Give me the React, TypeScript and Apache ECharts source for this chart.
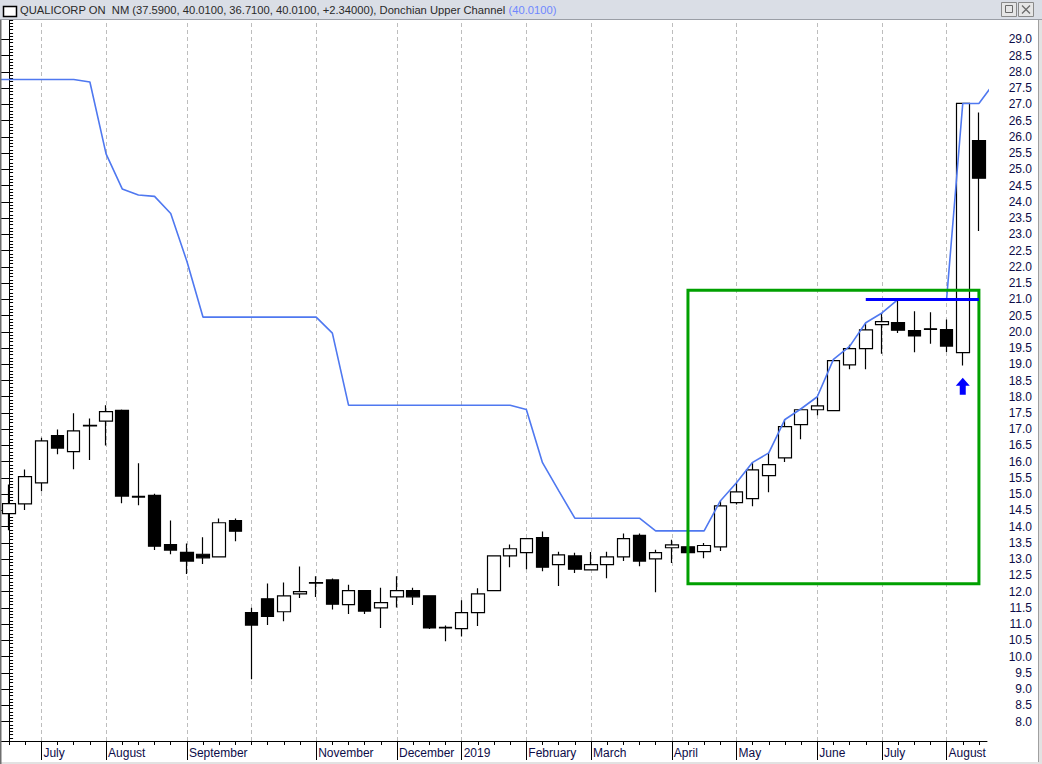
import React, { useEffect, useRef } from 'react';
import * as echarts from 'echarts';

// Weekly candles (index 0..60)
const opens = [14.40, 14.70, 15.35, 16.80, 16.31, 17.10, 17.25, 17.58, 14.93, 14.96, 13.45, 13.21, 13.15, 13.07, 14.19, 11.35, 11.78, 11.38, 11.93, 12.26, 12.36, 11.60, 12.03, 11.50, 11.84, 12.03, 11.87, 10.90, 10.86, 11.35, 12.03, 13.10, 13.20, 13.66, 12.83, 13.10, 12.67, 12.83, 13.07, 13.73, 13.01, 13.35, 13.38, 13.23, 13.38, 14.74, 14.86, 15.57, 16.12, 17.14, 17.60, 17.57, 18.98, 19.48, 20.22, 20.28, 20.04, 20.09, 20.07, 19.36, 25.89];
const closes = [14.71, 15.54, 16.64, 16.42, 16.95, 17.12, 17.54, 14.94, 14.91, 13.40, 13.28, 12.94, 13.04, 14.12, 13.86, 10.97, 11.24, 11.87, 12.00, 12.28, 11.61, 12.03, 11.40, 11.66, 12.03, 11.84, 10.88, 10.88, 11.35, 11.93, 13.10, 13.32, 13.63, 12.75, 13.13, 12.69, 12.83, 13.07, 13.63, 12.94, 13.20, 13.44, 13.20, 13.42, 14.64, 15.07, 15.75, 15.91, 17.08, 17.60, 17.72, 19.11, 19.48, 20.06, 20.31, 20.05, 19.87, 20.07, 19.56, 27.03, 24.73];
const lows = [13.89, 14.51, 15.09, 16.23, 15.77, 16.05, 16.50, 14.72, 14.66, 13.28, 13.15, 12.54, 12.85, 13.07, 13.55, 9.30, 10.97, 11.09, 11.80, 11.83, 11.45, 11.31, 11.31, 10.88, 11.51, 11.59, 10.85, 10.47, 10.62, 10.94, 12.02, 12.75, 12.69, 12.63, 12.17, 12.57, 12.66, 12.41, 12.94, 12.78, 11.98, 12.88, 13.18, 13.03, 13.25, 14.68, 14.63, 15.06, 15.99, 16.69, 17.43, 17.56, 18.85, 18.85, 19.32, 19.96, 19.37, 19.63, 19.38, 18.96, 23.10];
const highs = [15.30, 15.76, 16.74, 16.99, 17.49, 17.33, 17.74, 17.61, 15.95, 15.01, 14.19, 13.48, 13.67, 14.25, 14.25, 11.50, 12.25, 12.28, 12.77, 12.47, 12.40, 12.21, 12.05, 12.12, 12.47, 12.12, 11.88, 10.96, 11.73, 12.10, 13.11, 13.45, 13.65, 13.85, 13.23, 13.20, 13.22, 13.23, 13.79, 13.79, 13.29, 13.60, 13.40, 13.50, 14.79, 15.35, 15.98, 16.27, 17.30, 17.63, 18.00, 19.15, 19.60, 20.28, 20.58, 21.00, 20.63, 20.60, 20.38, 27.05, 26.75];

// Donchian Upper Channel, weeks -1 .. 61
const donchian = [27.77, 27.77, 27.77, 27.77, 27.77, 27.77, 27.69, 25.48, 24.40, 24.21, 24.17, 23.64, 22.17, 20.45, 20.45, 20.45, 20.45, 20.45, 20.45, 20.45, 20.45, 19.96, 17.74, 17.74, 17.74, 17.74, 17.74, 17.74, 17.74, 17.74, 17.74, 17.74, 17.74, 17.61, 15.97, 15.11, 14.26, 14.26, 14.26, 14.26, 14.26, 13.87, 13.87, 13.87, 13.87, 14.79, 15.35, 15.98, 16.27, 17.30, 17.63, 18.00, 19.15, 19.55, 20.28, 20.58, 21.00, 21.00, 21.00, 21.00, 27.03, 27.03, 27.70];

const monthIdx = [2, 6, 11, 19, 24, 28, 32, 36, 41, 45, 50, 54, 58];
const monthNames = ['July', 'August', 'September', 'November', 'December', '2019', 'February', 'March', 'April', 'May', 'June', 'July', 'August'];
const gridIdx = [2, 6, 11, 15, 19, 24, 28, 32, 36, 41, 45, 50, 54, 58];

const boxWeeks = [42, 60];
const boxPrices = [21.28, 12.24];
const resistanceWeeks = [53, 60];
const resistancePrice = 21.0;
const signalWeek = 59;
const signalPrice = 18.32;

const titleMain = 'QUALICORP ON  NM (37.5900, 40.0100, 36.7100, 40.0100, +2.34000), Donchian Upper Channel ';
const titleValue = '(40.0100)';

const FONT = "'Liberation Sans', Arial, sans-serif";
const LABEL_COLOR = '#0c0c48';

export default function App() {
  const ref = useRef<HTMLDivElement>(null);
  useEffect(() => {
    if (!ref.current) return;
    const chart = echarts.init(ref.current, undefined, { renderer: 'svg' });
    const weeks = opens.map((_, i) => String(i));
    const candleData = opens.map((o, i) => [o, closes[i], lows[i], highs[i]]);
    const lineData = donchian.map((v, i) => [i - 1, v]);

    chart.setOption({
      animation: false,
      grid: [
        { left: 1, right: 55, top: 20, bottom: 23 },
        { left: 1, right: 55, top: 23.25, bottom: 26.25 },
      ],
      xAxis: [
        {
          type: 'category', gridIndex: 0, data: weeks, boundaryGap: true, position: 'bottom',
          axisLine: { show: true, lineStyle: { color: '#000', width: 1 } },
          axisTick: { show: true, alignWithLabel: true, interval: 0, length: 4, lineStyle: { color: '#000' } },
          axisLabel: { show: false }, splitLine: { show: false },
        },
        { type: 'value', gridIndex: 0, min: -0.5, max: 60.5, show: false, splitLine: { show: false } },
        {
          type: 'category', gridIndex: 0, data: weeks, boundaryGap: true, position: 'bottom',
          axisLine: { show: false },
          axisTick: {
            show: true, alignWithLabel: true, length: 19, lineStyle: { color: '#000' },
            interval: (i: number) => monthIdx.includes(i),
          },
          axisLabel: {
            show: true, interval: (i: number) => monthIdx.includes(i),
            formatter: (_v: string, i: number) => monthNames[monthIdx.indexOf(i)] ?? '',
            align: 'left', margin: 6, padding: [0, 0, 0, 2], fontSize: 12, fontFamily: FONT, color: LABEL_COLOR,
          },
          splitLine: { show: false },
        },
        { type: 'value', gridIndex: 1, min: 0, max: 1, show: false, splitLine: { show: false } },
      ],
      yAxis: [
        {
          type: 'value', gridIndex: 0, position: 'right', min: 7.4, max: 29.6, interval: 0.1,
          axisLine: { show: true, lineStyle: { color: '#000' } },
          axisTick: { show: true, length: 4, lineStyle: { color: '#000' } },
          axisLabel: { show: false }, splitLine: { show: false },
        },
        {
          type: 'value', gridIndex: 1, position: 'right', min: 7.5, max: 29.5, interval: 0.5,
          axisLine: { show: false },
          axisTick: { show: true, length: 8, lineStyle: { color: '#000' } },
          axisLabel: {
            show: true, showMinLabel: false, showMaxLabel: false,
            formatter: (v: number) => v.toFixed(1), align: 'right', margin: 45,
            fontSize: 12, fontFamily: FONT, color: LABEL_COLOR,
          },
          splitLine: { show: false },
        },
      ],
      series: [
        {
          type: 'candlestick', name: 'QUALICORP ON NM', xAxisIndex: 0, yAxisIndex: 0,
          data: candleData, barWidth: 13, z: 2,
          itemStyle: { color: '#ffffff', color0: '#000000', borderColor: '#000000', borderColor0: '#000000', borderWidth: 1.2 },
          emphasis: { disabled: true },
          markLine: {
            silent: true, z: 0, symbol: ['none', 'none'], label: { show: false },
            lineStyle: { color: '#bdbdbd', type: [4, 3], width: 1 },
            data: gridIdx.map((i) => ({ xAxis: i })),
          },
        },
        {
          type: 'line', name: 'Donchian Upper Channel', xAxisIndex: 1, yAxisIndex: 0,
          data: lineData, symbol: 'none', z: 3, clip: true,
          lineStyle: { color: '#4f78f0', width: 1.6 },
          emphasis: { disabled: true },
          markArea: {
            silent: true, z: 10,
            itemStyle: { color: 'rgba(0,0,0,0)', borderColor: '#00a000', borderWidth: 3 },
            label: { show: false },
            data: [[{ coord: [boxWeeks[0], boxPrices[0]] }, { coord: [boxWeeks[1], boxPrices[1]] }]],
          },
          markLine: {
            silent: true, z: 11, symbol: ['none', 'none'], label: { show: false },
            lineStyle: { color: '#0000ff', width: 3, type: 'solid' },
            data: [[{ coord: [resistanceWeeks[0], resistancePrice] }, { coord: [resistanceWeeks[1], resistancePrice] }]],
          },
          markPoint: {
            silent: true, z: 12,
            symbol: 'path://M7,0 L14,8 L10,8 L10,17 L4,17 L4,8 L0,8 Z',
            symbolSize: [14, 17],
            itemStyle: { color: '#0000ff' },
            label: { show: false },
            data: [{ coord: [signalWeek, signalPrice] }],
          },
        },
      ],
      graphic: [
        { type: 'rect', shape: { x: 0, y: 0, width: 1042, height: 19 }, style: { fill: '#dadee6' }, z: 50 },
        { type: 'line', shape: { x1: 0, y1: 19.5, x2: 1042, y2: 19.5 }, style: { stroke: '#9a9ea6', lineWidth: 1 }, z: 50 },
        { type: 'rect', shape: { x: 3.5, y: 6.5, width: 13, height: 10 }, style: { fill: '#ffffff', stroke: '#000', lineWidth: 1.5 }, z: 51 },
        {
          type: 'text', x: 20, y: 10, z: 51,
          style: {
            text: '{a|' + titleMain + '}{b|' + titleValue + '}',
            verticalAlign: 'middle', font: '11.2px ' + FONT,
            rich: {
              a: { fill: '#2a2a2a', fontSize: 11.2, fontFamily: FONT },
              b: { fill: '#6f87ff', fontSize: 11.2, fontFamily: FONT },
            },
          },
        },
        { type: 'rect', shape: { x: 1001.5, y: 2.5, width: 15, height: 14 }, style: { fill: '#e6e6e6', stroke: '#8a8a8a', lineWidth: 1 }, z: 51 },
        { type: 'rect', shape: { x: 1005.5, y: 5.5, width: 7, height: 7 }, style: { fill: 'none', stroke: '#6a6a6a', lineWidth: 1 }, z: 52 },
        { type: 'rect', shape: { x: 1018.5, y: 2.5, width: 15, height: 14 }, style: { fill: '#e6e6e6', stroke: '#8a8a8a', lineWidth: 1 }, z: 51 },
        { type: 'line', shape: { x1: 1022, y1: 5.5, x2: 1030, y2: 13.5 }, style: { stroke: '#6a6a6a', lineWidth: 1.3 }, z: 52 },
        { type: 'line', shape: { x1: 1030, y1: 5.5, x2: 1022, y2: 13.5 }, style: { stroke: '#6a6a6a', lineWidth: 1.3 }, z: 52 },
        { type: 'rect', shape: { x: 1038, y: 20, width: 4, height: 744 }, style: { fill: '#e2e2e2' }, z: 50 },
        { type: 'line', shape: { x1: 1038.5, y1: 20, x2: 1038.5, y2: 764 }, style: { stroke: '#a0a0a0', lineWidth: 1 }, z: 50 },
        { type: 'rect', shape: { x: 0, y: 762, width: 1042, height: 2 }, style: { fill: '#e2e2e2' }, z: 50 },
        { type: 'line', shape: { x1: 0.75, y1: 20, x2: 0.75, y2: 764 }, style: { stroke: '#6e6e6e', lineWidth: 1.5 }, z: 50 },
      ],
    });
    return () => chart.dispose();
  }, []);

  return <div ref={ref} style={{ position: 'absolute', left: 0, top: 0, width: 1042, height: 764 }} />;
}
